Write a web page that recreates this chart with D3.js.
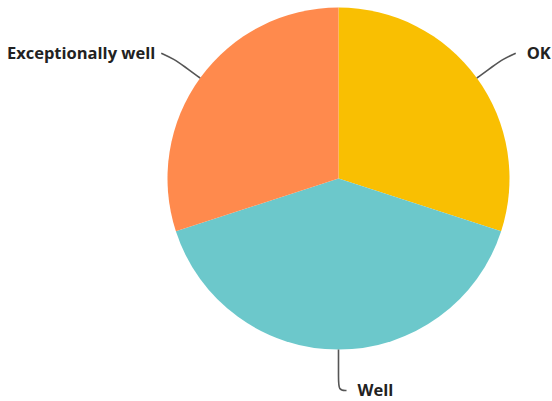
<!DOCTYPE html>
<html>
<head>
<meta charset="utf-8">
<script src="https://cdn.jsdelivr.net/npm/d3@7"></script>
<style>
  html, body { margin: 0; padding: 0; background: #fff; }
  svg { display: block; }
  .lbl { font-family: "Open Sans", "Liberation Sans", sans-serif; font-weight: 700; font-size: 16.5px; fill: #222; }
</style>
</head>
<body>
<div id="chart"></div>
<script>
// answers, going clockwise from 12 o'clock
var categories = ["OK", "Well", "Exceptionally well"];
var values = [30, 40, 30];
var colors = ["#f9bf02", "#6cc8cb", "#ff8a4d"];

var width = 552, height = 401;
var cx = 338.5, cy = 178.5, radius = 171;

var svg = d3.select("#chart")
    .append("svg")
    .attr("width", width)
    .attr("height", height);

var g = svg.append("g")
    .attr("transform", "translate(" + cx + "," + cy + ")");

var pie = d3.pie().sort(null).value(function(d) { return d; });
var arcs = pie(values);

var arc = d3.arc().innerRadius(0).outerRadius(radius);

g.selectAll("path.slice")
    .data(arcs)
    .enter().append("path")
    .attr("class", "slice")
    .attr("d", arc)
    .attr("fill", function(d, i) { return colors[i]; });

function polar(a, r) {
    return [Math.sin(a) * r, -Math.cos(a) * r];
}

var line = d3.line().curve(d3.curveBasis);

arcs.forEach(function(d, i) {
    var mid = (d.startAngle + d.endAngle) / 2;
    var p0 = polar(mid, radius);
    var pts, tx, ty, anchor;
    if (Math.abs(mid - Math.PI) < 0.3) {
        // bottom slice: drop down then hook right
        var p1 = [p0[0], radius + 41];
        var p2 = [p0[0] + 8, radius + 41];
        pts = [p0, [p0[0], radius + 29], p1, p2];
        tx = p2[0] + 11; ty = p2[1] + 5;
        anchor = "start";
    } else {
        var side = Math.sin(mid) > 0 ? 1 : -1;
        var e = polar(mid, radius + 32);
        var end = [e[0] + side * 13, e[1] - 6];
        pts = [p0, polar(mid, radius + 20), e, end];
        tx = end[0] + side * (side > 0 ? 11 : 6); ty = end[1] + 6;
        anchor = side > 0 ? "start" : "end";
    }
    g.append("path")
        .attr("d", line(pts))
        .attr("fill", "none")
        .attr("stroke", "#555")
        .attr("stroke-width", 1.6);
    g.append("text")
        .attr("class", "lbl")
        .attr("x", tx)
        .attr("y", ty)
        .attr("text-anchor", anchor)
        .text(categories[i]);
});
</script>
</body>
</html>
